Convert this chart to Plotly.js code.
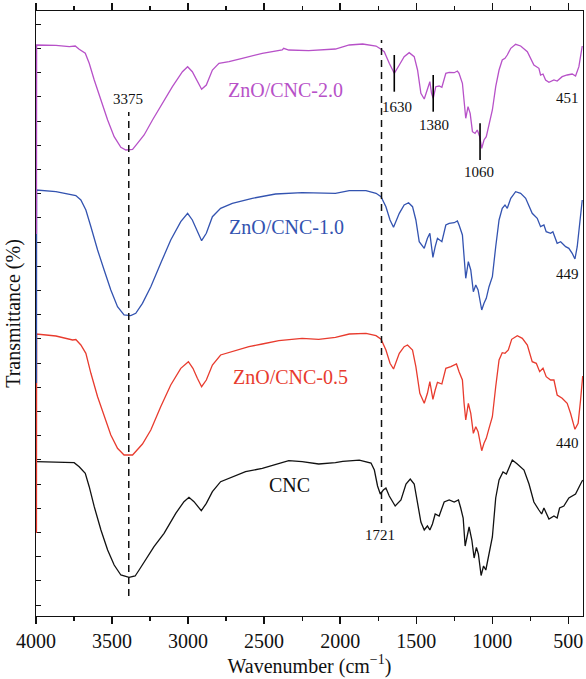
<!DOCTYPE html>
<html>
<head>
<meta charset="utf-8">
<script src="https://cdn.plot.ly/plotly-3.0.1.min.js"></script>
<style>
  html, body { margin: 0; padding: 0; background: #ffffff; }
  #chart { width: 586px; height: 679px; }
</style>
</head>
<body>
<div id="chart"></div>
<script>
// ---- Data (wavenumber in cm^-1, transmittance in arbitrary stacked units) ----
const wn_cnc = [3997,3869,3781,3749,3716,3676,3650,3617,3573,3529,3486,3442,3388,3348,3322,3278,3224,3158,3081,3027,2994,2961,2913,2880,2840,2786,2731,2622,2512,2425,2338,2250,2141,2031,1983,1874,1797,1775,1754,1736,1716,1699,1677,1638,1600,1567,1539,1513,1491,1469,1447,1426,1410,1393,1375,1349,1316,1283,1250,1222,1207,1191,1178,1152,1134,1119,1104,1091,1073,1057,1042,1021,999,977,955,929,907,890,868,835,791,758,726,693,675,660,627,594,573,557,529,496,452,419,405];
const t_cnc = [154.3,153.7,152.7,153.3,149.3,142.7,129.3,109.3,86,66,51,41,38.7,40,46,56,69.3,82.7,102.7,114.3,118.7,114.3,105.3,112.7,124.3,134.3,137.7,144.3,147.7,151.7,155.3,154.3,152,153.3,154.6,155.8,153,146,130,122,126,128,120,110,116,132,137,132,114,94,86,90,86,92,102,100,114,116,114,116,108,98,70,89,76,58,68.5,62,40.5,50,46,64,79,118,136,144,142,148,156,152,146,132,114,106,102,108,97,100,98,108,110,118,122,132,136];

const wn_05 = [3997,3996,3869,3759,3738,3705,3672,3639,3595,3552,3508,3464,3421,3365,3333,3300,3245,3180,3114,3048,2998,2968,2939,2911,2880,2840,2786,2709,2600,2512,2403,2250,2141,2031,1940,1830,1764,1731,1699,1672,1649,1611,1579,1557,1524,1502,1476,1447,1426,1410,1399,1390,1375,1360,1331,1305,1272,1235,1218,1196,1185,1174,1157,1141,1124,1108,1093,1080,1069,1054,1039,1021,999,977,955,934,916,894,872,835,802,769,737,710,688,666,645,616,594,573,540,507,485,456,435,419,405];
const t_05 = [83,282,280,276,276.5,271,262.7,242.7,219.3,199.3,181,167.7,161,161,166,172,186,209.3,231,247.7,254.3,247.7,237.7,229.3,236,251,261,264.3,269.3,272,275.3,277.7,276.7,278.7,282,282.7,280.3,276.7,266,252.7,247,262.7,269.3,271,266,249.3,222.7,212.7,222.7,234.3,222.7,216.7,226,233.7,232,247.7,249.3,252,244.3,236,212.7,196,212.7,202.7,182.7,189.3,184.3,172.7,165.3,172.7,177.7,187.7,199.3,229.3,256,263.3,262.7,266,276.7,280.3,277.7,271,254.3,252.7,244.3,247.7,239.3,236,236,221,217.7,212.7,202.7,186.7,192.7,216,240];

const wn_10 = [3997,3996,3869,3770,3738,3705,3672,3639,3595,3552,3508,3464,3421,3377,3344,3300,3245,3180,3114,3048,3003,2972,2939,2911,2880,2840,2786,2709,2578,2425,2250,2031,1940,1830,1764,1731,1699,1672,1649,1611,1579,1550,1524,1502,1480,1447,1426,1410,1399,1390,1375,1360,1331,1305,1283,1250,1229,1218,1196,1185,1174,1157,1141,1124,1108,1093,1080,1069,1054,1039,1021,999,977,955,934,916,901,878,846,813,780,737,704,682,660,645,616,601,573,550,517,496,474,456,441,426,408];
const t_10 = [233,426,424.3,422,420.5,416,406,389.3,366,346,326,309.3,301,300.3,302.7,312.7,329.3,352.7,376,394.3,402.7,396,384.3,375.3,382.7,399.3,407.7,412.7,417.7,422,423.3,422.7,425.3,425.3,422.7,419.3,409.3,396,388.7,402.7,411,413.3,409.3,396,374.3,367.7,377.7,382.7,369.3,358.7,369.3,377.7,374.3,391,392.7,393.3,395,391,381,359.3,337.7,354.3,346,324.3,331,326,314.3,306,312.7,317.7,329.3,339.3,369.3,396,407.7,411,407.7,417.7,424.3,422.7,417.7,402.7,397.7,389.3,391,384.3,382.7,384.3,372.7,374.3,369.3,367.7,362.7,357,369.3,392.7,416];

const wn_20 = [3997,3996,3869,3781,3742,3716,3676,3650,3617,3573,3529,3486,3442,3409,3365,3333,3289,3234,3169,3103,3037,3003,2972,2939,2911,2880,2840,2797,2731,2644,2512,2381,2371,2338,2207,2031,1940,1852,1764,1731,1710,1677,1644,1611,1579,1546,1513,1491,1469,1447,1426,1410,1399,1388,1371,1349,1331,1305,1283,1250,1229,1218,1196,1185,1174,1159,1145,1130,1113,1098,1082,1069,1054,1039,1021,999,977,955,934,916,901,878,846,813,769,726,693,682,666,649,627,594,573,540,507,474,452,430,408];
const t_20 = [382,571,570.7,569.3,570,566.7,562.7,552.7,536,516,496,479.3,468.7,466,466.7,472.7,481,496,512.7,529.3,544.3,549.3,544.3,534.3,526.7,531,546,552.7,554.3,557.7,562.7,566,567.7,566,565.3,567,571,572,570,566.7,564.3,552.7,542.7,551,559.3,563.3,559.3,546,522.7,517,526,534.3,522.7,517.7,529.3,530,528.7,542.7,543.7,543.3,545,542.7,532.7,512.7,497.7,509.3,502.7,484.3,482.7,486,479.3,467.7,476,479.3,492.7,506,529.3,546,556,557.7,561,567.7,571.7,570,564.3,551,547.7,541,542,536,533.7,536,535,539.3,541,542,540,549.3,570];

const seriesNames = ["CNC", "ZnO/CNC-0.5", "ZnO/CNC-1.0", "ZnO/CNC-2.0"];
const seriesColors = ["#111111", "#E83B2E", "#3353B0", "#B751C8"];
const seriesWn = [wn_cnc, wn_05, wn_10, wn_20];
const seriesT = [t_cnc, t_05, t_10, t_20];

// label anchors (wavenumber, level)
const seriesLabelWn = [2480, 2720, 2742, 2753];
const seriesLabelT = [131, 238.7, 389.3, 526.5];

// peak annotations
const peakText = ["3375", "1721", "1630", "1380", "1060", "451", "449", "440"];
const peakWn =   [3392, 1736, 1625, 1384, 1085, 502, 505, 505];
const peakT =    [516.7, 81, 508.7, 490.7, 444, 518.3, 341.7, 172.7];

// dashed guide lines: [wavenumber, top, bottom]
const guideWn = [3390, 1728];
const guideTop = [504, 576];
const guideBottom = [20, 93];

// short solid markers on ZnO/CNC-2.0
const markWn = [1644, 1388, 1080];
const markTop = [561, 541, 492.7];
const markBottom = [524.3, 504.3, 456];

const FONT = "Liberation Serif, Times New Roman, serif";

const traces = seriesNames.map((n, i) => ({
  type: "scatter",
  mode: "lines",
  name: n,
  x: seriesWn[i],
  y: seriesT[i],
  line: { color: seriesColors[i], width: 1.3 },
  hoverinfo: "skip"
}));

const annotations = [];
seriesNames.forEach((n, i) => {
  annotations.push({
    x: seriesLabelWn[i], y: seriesLabelT[i], xref: "x", yref: "y",
    text: n, showarrow: false, xanchor: "left", yanchor: "middle",
    font: { family: FONT, size: 20, color: seriesColors[i] }
  });
});
peakText.forEach((t, i) => {
  annotations.push({
    x: peakWn[i], y: peakT[i], xref: "x", yref: "y",
    text: t, showarrow: false, xanchor: "center", yanchor: "middle",
    font: { family: FONT, size: 15, color: "#111111" }
  });
});

const shapes = [];
guideWn.forEach((w, i) => {
  shapes.push({
    type: "line", xref: "x", yref: "y",
    x0: w, x1: w, y0: guideBottom[i], y1: guideTop[i],
    line: { color: "#111111", width: 1.5, dash: "7px,5px" }
  });
});
markWn.forEach((w, i) => {
  shapes.push({
    type: "line", xref: "x", yref: "y",
    x0: w, x1: w, y0: markBottom[i], y1: markTop[i],
    line: { color: "#000000", width: 1.6 }
  });
});

const layout = {
  width: 586, height: 679,
  margin: { l: 36, r: 3, t: 11, b: 63 },
  paper_bgcolor: "#ffffff", plot_bgcolor: "#ffffff",
  showlegend: false,
  font: { family: FONT, size: 20, color: "#111111" },
  xaxis: {
    range: [4000, 403],
    tick0: 0, dtick: 500,
    ticks: "outside", ticklen: 7, tickwidth: 1.3, tickcolor: "#111111",
    minor: { dtick: 250, ticks: "outside", ticklen: 4, tickwidth: 1.2, tickcolor: "#111111" },
    showline: true, linewidth: 1.3, linecolor: "#111111", mirror: "ticks",
    showgrid: false, zeroline: false,
    layer: "below traces",
    tickfont: { family: FONT, size: 20, color: "#111111" },
    title: { text: "Wavenumber (cm<sup>−1</sup>)", font: { family: FONT, size: 20, color: "#111111" }, standoff: 7 }
  },
  yaxis: {
    range: [0, 605],
    tick0: 10.9, dtick: 24.2,
    ticks: "inside", ticklen: 5, tickwidth: 1.1, tickcolor: "#111111",
    showticklabels: false,
    showline: true, linewidth: 1.3, linecolor: "#111111", mirror: true,
    showgrid: false, zeroline: false,
    layer: "below traces",
    title: { text: "Transmittance (%)", font: { family: FONT, size: 20, color: "#111111" }, standoff: 8 }
  },
  yaxis2: {
    overlaying: "y", side: "right",
    range: [0, 605],
    tick0: 10.9, dtick: 24.2,
    ticks: "outside", ticklen: 4, tickwidth: 1.1, tickcolor: "#111111",
    showticklabels: false, showline: false, showgrid: false, zeroline: false
  },
  annotations: annotations,
  shapes: shapes
};

Plotly.newPlot("chart", traces, layout, { staticPlot: true, displayModeBar: false });
</script>
</body>
</html>
